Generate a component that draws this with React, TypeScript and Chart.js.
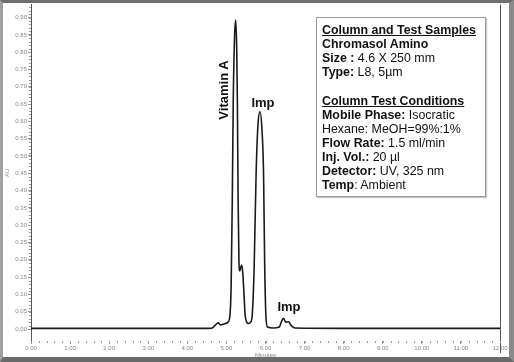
import React, { useEffect, useRef } from "react";
import { Chart, registerables } from "chart.js";
Chart.register(...registerables);

// Retention time (minutes) and detector response (AU)
const times = [0, 4.55, 4.65, 4.72, 4.79, 4.85, 4.9, 4.97, 5.04, 5.09, 5.12, 5.15, 5.175, 5.21, 5.24, 5.265, 5.28, 5.3, 5.32, 5.34, 5.36, 5.39, 5.42, 5.45, 5.48, 5.52, 5.56, 5.62, 5.66, 5.71, 5.76, 5.81, 5.86, 5.91, 5.95, 5.98, 6.01, 6.05, 6.2, 6.35, 6.42, 6.46, 6.52, 6.59, 6.66, 6.76, 8, 12];
const absorbance = [0.002, 0.002, 0.004, 0.012, 0.018, 0.012, 0.013, 0.016, 0.02, 0.04, 0.12, 0.37, 0.66, 0.85, 0.893, 0.8, 0.66, 0.37, 0.2, 0.168, 0.175, 0.185, 0.16, 0.1, 0.04, 0.02, 0.016, 0.02, 0.04, 0.18, 0.45, 0.595, 0.628, 0.575, 0.45, 0.18, 0.04, 0.006, 0.003, 0.006, 0.025, 0.031, 0.02, 0.021, 0.01, 0.003, 0.002, 0.002];

const xTicks = [0, 1, 2, 3, 4, 5, 6, 7, 8, 9, 10, 11, 12];
const yTicks = [0, 0.05, 0.1, 0.15, 0.2, 0.25, 0.3, 0.35, 0.4, 0.45, 0.5, 0.55, 0.6, 0.65, 0.7, 0.75, 0.8, 0.85, 0.9];
const xMinorStep = 0.2;
const yMinorStep = 0.01;

const xTitle = "Minutes";
const yTitle = "AU";

const peakLabels = [
  { text: "Vitamin A", left: 223, top: 90, rotate: true },
  { text: "Imp", left: 263, top: 102, rotate: false },
  { text: "Imp", left: 289, top: 306, rotate: false },
];

const infoLines: { bold: string; normal: string; underline?: boolean; spacer?: boolean }[] = [
  { bold: "Column and Test Samples", normal: "", underline: true },
  { bold: "Chromasol Amino", normal: "" },
  { bold: "Size :", normal: " 4.6 X 250 mm" },
  { bold: "Type:", normal: " L8, 5µm" },
  { bold: "", normal: "", spacer: true },
  { bold: "Column Test Conditions", normal: "", underline: true },
  { bold: "Mobile Phase:", normal: " Isocratic" },
  { bold: "", normal: "Hexane: MeOH=99%:1%" },
  { bold: "Flow Rate:", normal: " 1.5 ml/min" },
  { bold: "Inj. Vol.:", normal: " 20 µl" },
  { bold: "Detector:", normal: " UV, 325 nm" },
  { bold: "Temp", normal: ": Ambient" },
];

const FONT = "'Liberation Sans', Arial, Helvetica, sans-serif";

const framePlugin = {
  id: "frameAndMinor",
  afterDraw(chart: any) {
    const { ctx, chartArea, scales } = chart;
    const xs = scales.x;
    const ys = scales.y;
    ctx.save();
    ctx.strokeStyle = "#555";
    ctx.lineWidth = 1;
    ctx.beginPath();
    ctx.moveTo(chartArea.right + 0.5, chartArea.top);
    ctx.lineTo(chartArea.right + 0.5, chartArea.bottom + 12);
    ctx.stroke();
    ctx.strokeStyle = "#999";
    ctx.beginPath();
    const nx = Math.round((xs.max - xs.min) / xMinorStep);
    for (let i = 0; i <= nx; i++) {
      const v = xs.min + i * xMinorStep;
      const px = Math.round(xs.getPixelForValue(v)) + 0.5;
      ctx.moveTo(px, chartArea.bottom);
      ctx.lineTo(px, chartArea.bottom + 2);
    }
    const ny = Math.round(0.93 / yMinorStep);
    for (let i = 0; i <= ny; i++) {
      const v = i * yMinorStep;
      const py = Math.round(ys.getPixelForValue(v)) + 0.5;
      ctx.moveTo(chartArea.left - 2, py);
      ctx.lineTo(chartArea.left, py);
    }
    ctx.stroke();
    ctx.restore();
  },
};

function ChromChart() {
  const ref = useRef<HTMLCanvasElement | null>(null);
  useEffect(() => {
    if (!ref.current) return;
    const data = times.map((t, i) => ({ x: t, y: absorbance[i] }));
    const chart = new Chart(ref.current, {
      type: "line",
      data: {
        datasets: [
          {
            data,
            borderColor: "#1a1a1a",
            borderWidth: 1.6,
            pointRadius: 0,
            cubicInterpolationMode: "monotone",
            fill: false,
          },
        ],
      },
      options: {
        animation: false,
        responsive: false,
        maintainAspectRatio: false,
        layout: { padding: { top: 3, right: 14, bottom: 3, left: 0 } },
        plugins: { legend: { display: false }, tooltip: { enabled: false } },
        scales: {
          x: {
            type: "linear",
            min: 0,
            max: 12,
            afterBuildTicks: (s: any) => {
              s.ticks = xTicks.map((v) => ({ value: v }));
            },
            afterFit: (s: any) => {
              s.height = 18;
            },
            grid: { drawOnChartArea: false, drawTicks: true, tickLength: 3, color: "#999" },
            border: { display: false },
            ticks: {
              autoSkip: false,
              maxRotation: 0,
              padding: 1,
              color: "#888",
              font: { family: FONT, size: 6 },
              callback: (v: any) => Number(v).toFixed(2),
            },
            title: {
              display: true,
              text: xTitle,
              color: "#888",
              font: { family: FONT, size: 6 },
              padding: { top: 0, bottom: 0 },
            },
          },
          y: {
            type: "linear",
            min: -0.0345,
            max: 0.9374,
            afterBuildTicks: (s: any) => {
              s.ticks = yTicks.map((v) => ({ value: v }));
            },
            afterFit: (s: any) => {
              s.width = 31;
            },
            grid: { drawOnChartArea: false, drawTicks: true, tickLength: 3, color: "#999" },
            border: { display: true, color: "#555", width: 1 },
            ticks: {
              autoSkip: false,
              padding: 1,
              color: "#888",
              font: { family: FONT, size: 6 },
              callback: (v: any) => Number(v).toFixed(2),
            },
            title: {
              display: true,
              text: yTitle,
              color: "#888",
              font: { family: FONT, size: 6 },
              padding: { top: 4, bottom: 0 },
            },
          },
        },
      },
      plugins: [framePlugin],
    } as any);
    return () => chart.destroy();
  }, []);
  return (
    <canvas
      ref={ref}
      width={514}
      height={362}
      style={{ position: "absolute", left: 0, top: 0, width: 514, height: 362 }}
    />
  );
}

export default function App() {
  return (
    <div style={{ position: "absolute", left: 0, top: 0, width: 514, height: 362, background: "#fff", overflow: "hidden", fontFamily: FONT }}>
      <ChromChart />
      {peakLabels.map((p, i) => (
        <div
          key={i}
          style={{
            position: "absolute",
            left: p.left,
            top: p.top,
            transform: `translate(-50%, -50%)${p.rotate ? " rotate(-90deg)" : ""}`,
            fontWeight: "bold",
            fontSize: 13,
            lineHeight: "13px",
            whiteSpace: "nowrap",
            color: "#111",
          }}
        >
          {p.text}
        </div>
      ))}
      <div
        style={{
          position: "absolute",
          left: 316,
          top: 17,
          width: 170,
          height: 180,
          boxSizing: "border-box",
          border: "1px solid #9a9a9a",
          boxShadow: "1px 1px 1px #c8c8c8",
          background: "#fff",
          padding: "5px 0 0 5px",
          fontSize: 12.4,
          lineHeight: "14px",
          color: "#111",
        }}
      >
        {infoLines.map((l, i) =>
          l.spacer ? (
            <div key={i} style={{ height: 14.7 }} />
          ) : (
            <div key={i} style={{ whiteSpace: "nowrap" }}>
              {l.bold && <span style={{ fontWeight: "bold", textDecoration: l.underline ? "underline" : "none" }}>{l.bold}</span>}
              {l.normal && <span>{l.normal}</span>}
            </div>
          )
        )}
      </div>
      <div
        style={{
          position: "absolute",
          left: 0,
          top: 0,
          width: 514,
          height: 362,
          boxSizing: "border-box",
          borderTop: "3px solid #707070",
          borderLeft: "3px solid #a0a0a0",
          borderBottom: "5px solid #6a6a6a",
          borderRight: "5px solid #8a8a8a",
          pointerEvents: "none",
        }}
      />
    </div>
  );
}
